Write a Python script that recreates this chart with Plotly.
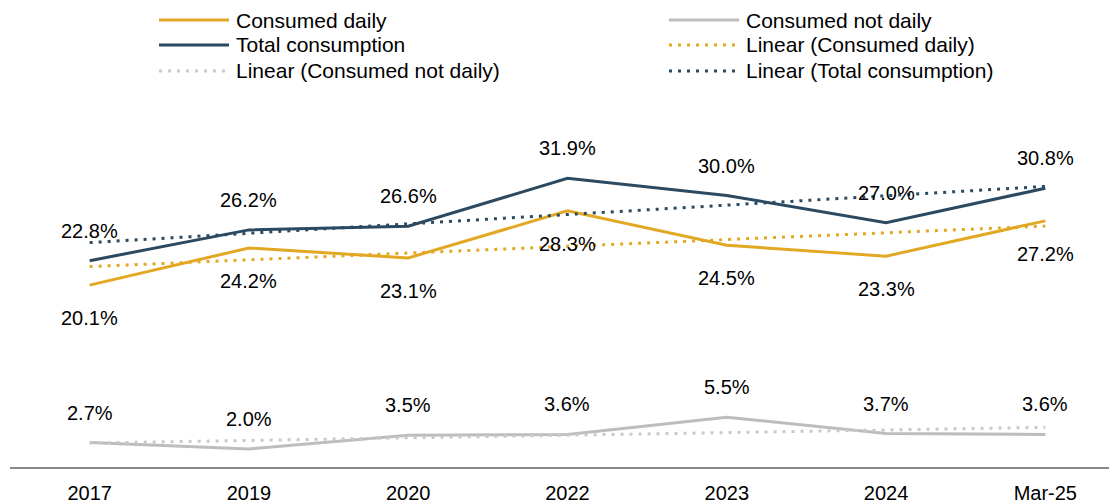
import numpy as np
import plotly.graph_objects as go

# Data
years = ["2017", "2019", "2020", "2022", "2023", "2024", "Mar-25"]
consumed_daily = [20.1, 24.2, 23.1, 28.3, 24.5, 23.3, 27.2]
consumed_not_daily = [2.7, 2.0, 3.5, 3.6, 5.5, 3.7, 3.6]
total_consumption = [22.8, 26.2, 26.6, 31.9, 30.0, 27.0, 30.8]

GOLD = "#E2A823"
NAVY = "#2B4A61"
GREY = "#BDBDBD"
GREY_DOT = "#C9C9C9"
FONT = "Liberation Sans, Arial, sans-serif"

# Page geometry (pixels); the html body adds an 8px margin
OFF = 8
W, H = 1117 - OFF, 504 - OFF
ML, MR, MT, MB = 2, 0, 97, 37


def px_x(px):
    return (px - OFF - ML) / (W - ML - MR)


def px_y(py):
    return (H - MB - (py - OFF)) / (H - MT - MB)


def linear_trend(values):
    # Excel style linear trendline over category index
    idx = np.arange(len(values))
    slope, icpt = np.polyfit(idx, values, 1)
    return list(slope * idx + icpt)


fig = go.Figure()

series = [
    ("Consumed daily", consumed_daily, GOLD),
    ("Consumed not daily", consumed_not_daily, GREY),
    ("Total consumption", total_consumption, NAVY),
]
for name, vals, col in series:
    fig.add_trace(go.Scatter(x=years, y=vals, name=name, mode="lines",
                             line=dict(color=col, width=3), showlegend=False))

trends = [
    ("Linear (Consumed daily)", consumed_daily, GOLD),
    ("Linear (Consumed not daily)", consumed_not_daily, GREY_DOT),
    ("Linear (Total consumption)", total_consumption, NAVY),
]
for name, vals, col in trends:
    fig.add_trace(go.Scatter(x=years, y=linear_trend(vals), name=name, mode="lines",
                             line=dict(color=col, width=3, dash="3px,6px"),
                             showlegend=False))

# Data labels (x given as category index)
annotations = []
for vals, shift in [(total_consumption, 30), (consumed_daily, -33), (consumed_not_daily, 30)]:
    for i, v in enumerate(vals):
        annotations.append(dict(x=i, y=v, text=f"{v:.1f}%", showarrow=False,
                                yshift=shift, yanchor="middle", xanchor="center",
                                font=dict(size=20, color="black", family=FONT)))

# Custom legend, two columns
legend_items = [
    ("Consumed daily", GOLD, "solid", 159, 20),
    ("Consumed not daily", GREY, "solid", 669, 20),
    ("Total consumption", NAVY, "solid", 159, 45),
    ("Linear (Consumed daily)", GOLD, "dot", 669, 45),
    ("Linear (Consumed not daily)", GREY_DOT, "dot", 159, 71),
    ("Linear (Total consumption)", NAVY, "dot", 669, 71),
]
shapes = []
for label, col, style, lx, ly in legend_items:
    shapes.append(dict(type="line", xref="paper", yref="paper",
                       x0=px_x(lx), x1=px_x(lx + 70), y0=px_y(ly), y1=px_y(ly),
                       line=dict(color=col, width=3,
                                 dash="solid" if style == "solid" else "3px,6px")))
    annotations.append(dict(xref="paper", yref="paper", x=px_x(lx + 75), y=px_y(ly),
                            text=label, showarrow=False, xanchor="left",
                            yanchor="middle",
                            font=dict(size=21, color="black", family=FONT)))

fig.update_layout(
    width=W,
    height=H,
    margin=dict(l=ML, r=MR, t=MT, b=MB),
    paper_bgcolor="white",
    plot_bgcolor="white",
    font=dict(family=FONT, size=20, color="black"),
    annotations=annotations,
    shapes=shapes,
    showlegend=False,
)
fig.update_xaxes(type="category", range=[-0.5, 6.45], showgrid=False,
                 showline=True, linecolor="#898989", linewidth=2,
                 ticks="", ticklabelstandoff=7,
                 tickfont=dict(size=20, color="black", family=FONT))
fig.update_yaxes(range=[0, 40], visible=False, showgrid=False, zeroline=False)

fig.write_html("out.html")
